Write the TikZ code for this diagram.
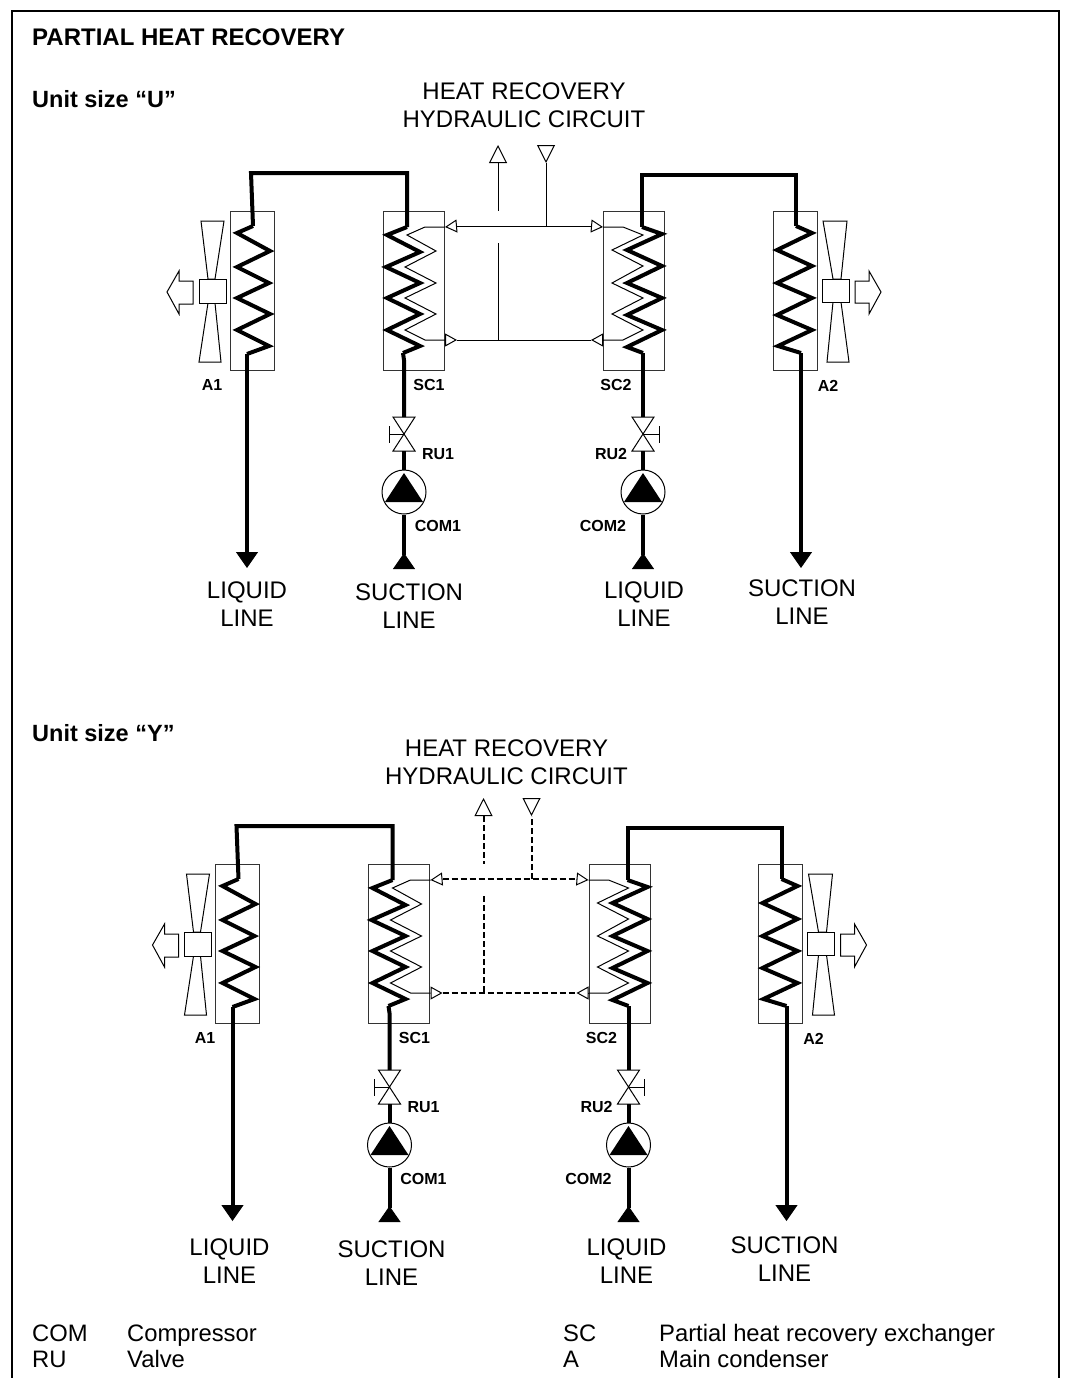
\documentclass[tikz,border=0pt]{standalone}
\usepackage{fontspec}
\setmainfont{Liberation Sans}
\usetikzlibrary{arrows.meta, positioning}

\newcommand{\circuit}[1]{
  % condensers and exchangers
  \node[unitbox, minimum width=44pt] (A1) at (252,290.5) {};
  \node[unitbox, minimum width=61pt] (SC1) at (413.5,290.5) {};
  \node[unitbox, minimum width=61pt] (SC2) at (634,290.5) {};
  \node[unitbox, minimum width=44pt] (A2) at (795,290.5) {};
  % hot gas lines
  \coordinate (c1) at (253,226);
  \coordinate (c2) at (407,227);
  \coordinate (c3) at (642,227);
  \coordinate (c4) at (796,226);
  \draw[pipe, line join=miter] (c1) -- (251,173) -- (407,173) -- (c2);
  \draw[pipe, line join=miter] (c3) -- (642,175) -- (796,175) -- (c4);
  % coils
  \coordinate (o1) at (247,354);
  \coordinate (o2) at (403,353);
  \coordinate (o3) at (643,353);
  \coordinate (o4) at (801,353);
  \draw[pipe] (c1) -- (237,233) -- (270,251) -- (237,267) -- (269,283) -- (237,298)
    -- (270,314) -- (237,330) -- (269,346) -- (o1);
  \draw[pipe] (c2) -- (387,235) -- (420,252) -- (386,267) -- (420,283) -- (387,298)
    -- (420,314) -- (387,330) -- (420,346) -- (o2);
  \draw[pipe] (c3) -- (662,234) -- (627,250) -- (662,266) -- (627,283) -- (662,298)
    -- (627,315) -- (662,330) -- (627,347) -- (o3);
  \draw[pipe] (c4) -- (812,233) -- (777,250) -- (812,266) -- (777,283) -- (812,298)
    -- (777,315) -- (812,330) -- (778,346) -- (o4);
  % water coils
  \coordinate (w1) at (445,227);
  \coordinate (w2) at (445,340);
  \coordinate (w3) at (603,227);
  \coordinate (w4) at (603,340);
  \draw[coil] (w1) -- (425,227) -- (407,235) -- (436,251) -- (405,267) -- (436,283)
    -- (405,298) -- (436,314) -- (405,330) -- (425,340) -- (w2);
  \draw[coil] (w3) -- (623,227) -- (643,235) -- (612,250) -- (643,266) -- (612,283)
    -- (643,298) -- (612,314) -- (643,330) -- (623,340) -- (w4);
  % fans
  \draw[coil, fill=white] (201,221) -- (224,221) -- (215,279) -- (208,279) -- cycle;
  \draw[coil, fill=white] (208,303) -- (215,303) -- (221,362) -- (199,362) -- cycle;
  \node[coil, draw, fill=white, inner sep=0pt, minimum width=27pt, minimum height=24pt] (fan1) at (212.5,291) {};
  \draw[coil, fill=white] (193,281) -- (179,281) -- (179,271) -- (167,292) -- (179,314)
    -- (179,304) -- (193,304) -- cycle;
  \draw[coil, fill=white] (823,221) -- (847,221) -- (841,279) -- (833,279) -- cycle;
  \draw[coil, fill=white] (833,302) -- (841,302) -- (849,362) -- (827,362) -- cycle;
  \node[coil, draw, fill=white, inner sep=0pt, minimum width=27pt, minimum height=23pt] (fan2) at (835.5,290.5) {};
  \draw[coil, fill=white] (855,281) -- (869,281) -- (869,271) -- (881,292) -- (869,314)
    -- (869,303) -- (855,303) -- cycle;
  % valves
  \coordinate (v1) at (404,434);
  \coordinate (v2) at (643,434);
  \draw[coil] (393,417) -- (415,417) -- (393,451) -- (415,451) -- cycle;
  \draw[coil] (632,417) -- (654,417) -- (632,451) -- (654,451) -- cycle;
  \draw[coil] (v1) -- (389,434) (389,426) -- (389,443);
  \draw[coil] (v2) -- (659,434) (659,426) -- (659,443);
  % compressors
  \node[comp] (COM1) at (404,492) {};
  \node[comp] (COM2) at (643,492) {};
  \fill (404,473) -- (423,502) -- (385,502) -- cycle;
  \fill (643,473) -- (662,502) -- (624,502) -- cycle;
  % refrigerant lines
  \coordinate (s1) at (404,568);
  \coordinate (s2) at (643,568);
  \draw[pipe] (o2) -- (404,360) -- (404,417);
  \draw[pipe] (404,451) -- (COM1);
  \draw[pipe] (COM1) -- (404,555);
  \draw[pipe] (o3) -- (643,417);
  \draw[pipe] (643,451) -- (COM2);
  \draw[pipe] (COM2) -- (643,555);
  \draw[blacktip] (s1) -- (404,553);
  \draw[blacktip] (s2) -- (643,553);
  \draw[pipe] (o1) -- (247,552);
  \draw[pipe] (o4) -- (801,552);
  \draw[blacktip] (247,551) -- (247,568);
  \draw[blacktip] (801,551) -- (801,568);
  % hydraulic circuit
  \coordinate (h1) at (457,226);
  \coordinate (h2) at (591,226);
  \coordinate (h3) at (457,340);
  \coordinate (h4) at (591,340);
  \draw[water] (h1) -- (h2);
  \draw[water] (h3) -- (h4);
  \draw[water] (546,226) -- (546,163);
  \draw[water] (498,163) -- (498,211);
  \draw[water] (498,243) -- (498,340);
  \draw[hollowtip] (h1) -- (w1);
  \draw[hollowtip] (h2) -- (w3);
  \draw[hollowtip] (w2) -- (h3);
  \draw[hollowtip] (w4) -- (h4);
  \draw[hollowbig] (498,163) -- (498,145);
  \draw[hollowbig] (546,145) -- (546,163);
  % small labels
  \node[tag] (lbSC1) at (429,385) {SC1};
  \node[tag] (lbRU1) at (438,454) {RU1};
  \node[tag] (lbCOM1) at (438,526) {COM1};
  \node[tag] (lbSC2) at (616,385) {SC2};
  \node[tag] (lbRU2) at (611,454) {RU2};
  \node[tag] (lbCOM2) at (603,526) {COM2};
  \node[tag] (lbA2) at (828,386) {A2};
}

\newcommand{\circuitlabels}{
  \node[caption] (hrc) at (524,105) {HEAT RECOVERY\\HYDRAULIC CIRCUIT};
  \node[caption] (liq1) at (247,604) {LIQUID\\LINE};
  \node[caption] (suc1) at (409,606) {SUCTION\\LINE};
  \node[caption] (liq2) at (644,604) {LIQUID\\LINE};
  \node[caption] (suc2) at (802,602) {SUCTION\\LINE};
}

\begin{document}
\begin{tikzpicture}[x=1pt, y=-1pt,
                    unitbox/.style= {rectangle,
                      draw=black!80,
                      line width=1pt,
                      inner sep=0pt,
                      minimum height=159pt},
                    pipe/.style= {line width=4pt},
                    coil/.style= {line width=1pt},
                    comp/.style= {circle,
                      draw,
                      fill=white,
                      line width=1pt,
                      inner sep=0pt,
                      minimum size=44pt},
                    blacktip/.style= {line width=1pt,
                      -{Triangle[length=16pt, width=22pt]}},
                    hollowtip/.style= {line width=1pt, solid,
                      -{Triangle[fill=white, length=12pt, width=13pt]}},
                    hollowbig/.style= {line width=1pt, solid,
                      -{Triangle[fill=white, length=18pt, width=18pt]}},
                    tag/.style= {font=\fontsize{16}{16}\selectfont\bfseries,
                      inner sep=0pt},
                    caption/.style= {font=\fontsize{24}{28}\selectfont,
                      align=center,
                      inner sep=0pt},
                    head/.style= {font=\fontsize{23.5}{24}\selectfont\bfseries,
                      anchor=base west,
                      inner sep=0pt},
                    legend/.style= {font=\fontsize{23.8}{24}\selectfont,
                      anchor=base west,
                      inner sep=0pt}]

  \useasboundingbox (0,0) rectangle (1065,1378);

  % frame, open at the bottom
  \coordinate (f1) at (12,1378);
  \coordinate (f2) at (12,11);
  \coordinate (f3) at (1059,11);
  \coordinate (f4) at (1059,1378);
  \draw[line width=1.2pt] (f1) -- (f2) -- (f3) -- (f4);

  \node[head, font=\fontsize{24}{24}\selectfont\bfseries] (title) at (32,45.5) {PARTIAL HEAT RECOVERY};
  \node[head] (sizeU) at (32,108) {Unit size “U”};
  \node[head] (sizeY) at (32,741.5) {Unit size “Y”};

  \begin{scope}[name prefix=u-, water/.style={line width=1pt}]
    \circuit{}
    \circuitlabels
    \node[tag] (lbA1) at (212,385) {A1};
  \end{scope}

  \begin{scope}[name prefix=y-, shift={(-14.5,653)},
                water/.style={line width=2pt, dash pattern=on 6pt off 3pt}]
    \circuit{}
  \end{scope}
  \begin{scope}[name prefix=y-, shift={(-17.5,657)}]
    \circuitlabels
  \end{scope}
  \node[tag] (y-lbA1) at (205,1038) {A1};

  \node[legend] (k1) at (32,1341) {COM};
  \node[legend] (k2) at (127,1341) {Compressor};
  \node[legend] (k3) at (32,1367) {RU};
  \node[legend] (k4) at (127,1367) {Valve};
  \node[legend] (k5) at (563,1341) {SC};
  \node[legend] (k6) at (659,1341) {Partial heat recovery exchanger};
  \node[legend] (k7) at (563,1367) {A};
  \node[legend] (k8) at (659,1367) {Main condenser};
\end{tikzpicture}
\end{document}
